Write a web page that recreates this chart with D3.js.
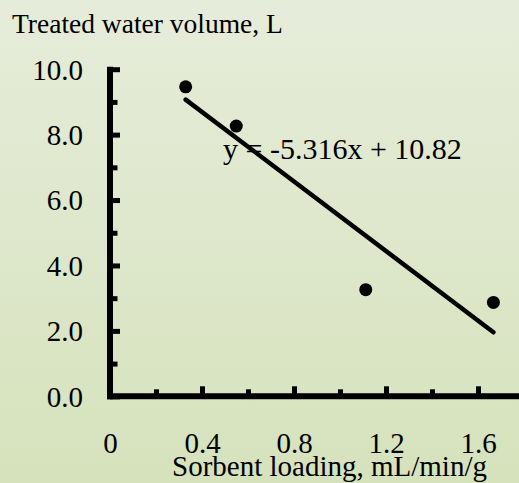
<!DOCTYPE html>
<html>
<head>
<meta charset="utf-8">
<script src="https://cdn.jsdelivr.net/npm/d3@7"></script>
<style>
  body { margin: 0; padding: 0; overflow: hidden; }
  svg text { font-family: "Liberation Serif", "Times New Roman", serif; fill: #000; }
</style>
</head>
<body>
<svg id="chart" width="519" height="483"></svg>
<script>
// data
var loading = [0.329, 0.549, 1.112, 1.667];
var volume = [9.46, 8.26, 3.26, 2.87];
var slope = -5.316, intercept = 10.82;
var yMajor = [0, 2, 4, 6, 8, 10];
var yMinor = [1, 3, 5, 7, 9];
var xMajor = [0.4, 0.8, 1.2, 1.6];
var xMinor = [0.2, 0.6, 1.0, 1.4];
var xLabels = [0, 0.4, 0.8, 1.2, 1.6];

var svg = d3.select("#chart"),
    W = +svg.attr("width"),
    H = +svg.attr("height");

var defs = svg.append("defs");
var grad = defs.append("linearGradient")
    .attr("id", "bg").attr("x1", 0).attr("y1", 0).attr("x2", 0).attr("y2", 1);
grad.append("stop").attr("offset", "0%").attr("stop-color", "#e6ecda");
grad.append("stop").attr("offset", "100%").attr("stop-color", "#d6e2bc");
svg.append("rect").attr("width", W).attr("height", H).attr("fill", "url(#bg)");

var x = d3.scaleLinear().domain([0, 1.8]).range([110, 110 + 1.8 * 230]);
var y = d3.scaleLinear().domain([0, 10]).range([396.3, 69.2]);

// titles
svg.append("text").attr("x", 12).attr("y", 33)
    .style("font-size", "27.5px").text("Treated water volume, L");
svg.append("text").attr("x", 172).attr("y", 476)
    .style("font-size", "29px").text("Sorbent loading, mL/min/g");

// y axis ticks (inside) and labels
var yTicksMajor = svg.append("g").attr("transform", "translate(110,0)")
    .call(d3.axisRight(y).tickValues(yMajor).tickSize(10).tickFormat(""));
var yTicksMinor = svg.append("g").attr("transform", "translate(110,0)")
    .call(d3.axisRight(y).tickValues(yMinor).tickSize(7.5).tickFormat(""));
var yLab = svg.append("g").attr("transform", "translate(110,0)")
    .call(d3.axisLeft(y).tickValues(yMajor).tickSize(0).tickPadding(27).tickFormat(d3.format(".1f")));
yLab.selectAll("text").style("font-size", "29px").attr("dy", "0.34em");

// x axis ticks (inside) and labels
svg.append("g").attr("transform", "translate(0,396.3)")
    .call(d3.axisTop(x).tickValues(xMajor).tickSize(10).tickFormat(""));
svg.append("g").attr("transform", "translate(0,396.3)")
    .call(d3.axisTop(x).tickValues(xMinor).tickSize(7).tickFormat(""));
var xLab = svg.append("g").attr("transform", "translate(0,396.3)")
    .call(d3.axisBottom(x).tickValues(xLabels).tickSize(0).tickPadding(0)
      .tickFormat(function(d) { return d === 0 ? "0" : d3.format(".1f")(d); }));
xLab.selectAll("text").style("font-size", "29px").attr("dy", "57px");

svg.selectAll(".domain").remove();
svg.selectAll(".tick line").attr("stroke", "#000").attr("stroke-width", 5);

// axis lines
svg.append("line").attr("x1", 110).attr("x2", 110).attr("y1", y(10) - 2.5).attr("y2", y(0) + 3)
    .attr("stroke", "#000").attr("stroke-width", 6);
svg.append("line").attr("x1", 107).attr("x2", W).attr("y1", y(0)).attr("y2", y(0))
    .attr("stroke", "#000").attr("stroke-width", 6);

// trend line
var xExt = d3.extent(loading);
svg.append("line")
    .attr("x1", x(xExt[0])).attr("y1", y(slope * xExt[0] + intercept))
    .attr("x2", x(xExt[1])).attr("y2", y(slope * xExt[1] + intercept))
    .attr("stroke", "#000").attr("stroke-width", 4.5).attr("stroke-linecap", "round");

// points
svg.selectAll(".dot")
    .data(loading.map(function(d, i) { return {x: d, y: volume[i]}; }))
  .enter().append("circle")
    .attr("class", "dot")
    .attr("cx", function(d) { return x(d.x); })
    .attr("cy", function(d) { return y(d.y); })
    .attr("r", 6.5)
    .attr("fill", "#000");

// equation
svg.append("text").attr("x", 223).attr("y", 159)
    .style("font-size", "30px").text("y = -5.316x + 10.82");
</script>
</body>
</html>
